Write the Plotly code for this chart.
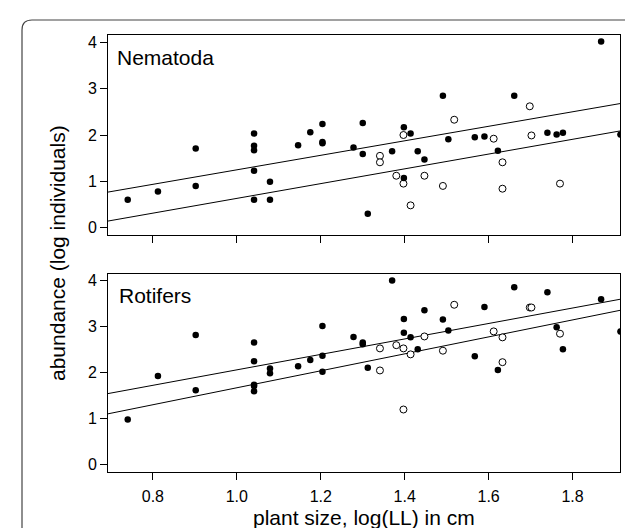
import plotly.graph_objects as go

# ---- data ----
x_filled = [0.740, 0.812, 0.902, 0.902, 1.041, 1.041, 1.041, 1.041, 1.041, 1.079, 1.079,
            1.146, 1.175, 1.204, 1.204, 1.204, 1.278, 1.300, 1.300, 1.312, 1.370, 1.398,
            1.398, 1.414, 1.431, 1.447, 1.491, 1.504, 1.567, 1.590, 1.622, 1.661, 1.740,
            1.762, 1.777, 1.868, 1.914]
nema_filled = [0.60, 0.78, 1.71, 0.90, 2.03, 1.77, 1.67, 1.23, 0.60, 0.99, 0.60,
               1.78, 2.06, 2.24, 1.85, 1.82, 1.73, 2.26, 1.59, 0.30, 1.65, 2.17,
               1.07, 2.03, 1.65, 1.47, 2.85, 1.91, 1.95, 1.97, 1.66, 2.85, 2.05,
               2.01, 2.05, 4.02, 2.01]
roti_filled = [0.985, 1.93, 2.82, 1.62, 2.66, 2.25, 1.74, 1.71, 1.60, 2.09, 1.99,
               2.14, 2.28, 3.02, 2.37, 2.02, 2.78, 2.66, 2.62, 2.11, 4.01, 3.17,
               2.87, 2.77, 2.51, 3.36, 3.16, 2.92, 2.36, 3.43, 2.06, 3.86, 3.75,
               2.99, 2.51, 3.60, 2.90]

x_open = [1.341, 1.341, 1.380, 1.397, 1.397, 1.414, 1.447, 1.491, 1.518, 1.612,
          1.633, 1.633, 1.698, 1.702, 1.770]
nema_open = [1.55, 1.41, 1.12, 2.00, 0.95, 0.48, 1.12, 0.90, 2.33, 1.92,
             1.41, 0.84, 2.62, 1.99, 0.95]
roti_open = [2.53, 2.05, 2.60, 2.53, 1.20, 2.40, 2.79, 2.48, 3.48, 2.90,
             2.77, 2.23, 3.42, 3.42, 2.85]

# regression lines (intercept, slope)
nema_lines = [(-0.319, 1.567), (-0.964, 1.595)]
roti_lines = [(0.381, 1.682), (-0.173, 1.846)]

x_ticks = [0.8, 1.0, 1.2, 1.4, 1.6, 1.8]
y_ticks = [0, 1, 2, 3, 4]
panel_names = ["Nematoda", "Rotifers"]

# ---- figure ----
W, H = 633, 528
ML, MR, MT, MB = 100, 21, 27, 64
X_RANGE = [0.693, 1.913]
Y_RANGE = [-0.16, 4.16]
FONT = "Liberation Sans, Arial, Helvetica, sans-serif"

fig = go.Figure()

panels = [
    (nema_filled, nema_open, nema_lines, "x2", "y2"),
    (roti_filled, roti_open, roti_lines, "x", "y"),
]
for yf, yo, lines, xa, ya in panels:
    for a, b in lines:
        fig.add_trace(go.Scatter(x=X_RANGE, y=[a + b * X_RANGE[0], a + b * X_RANGE[1]],
                                 mode="lines", line=dict(color="black", width=1),
                                 xaxis=xa, yaxis=ya, showlegend=False, hoverinfo="skip"))
    fig.add_trace(go.Scatter(x=x_open, y=yo, mode="markers",
                             marker=dict(size=7, color="white", line=dict(color="black", width=1)),
                             xaxis=xa, yaxis=ya, showlegend=False))
    fig.add_trace(go.Scatter(x=x_filled, y=yf, mode="markers",
                             marker=dict(size=6.5, color="black", line=dict(width=0)),
                             xaxis=xa, yaxis=ya, showlegend=False))

plot_h = H - MT - MB
def py2paper(py):
    return 1 - (py - MT) / plot_h
def px2paper(px):
    return (px - ML) / (W - ML - MR)

top_dom = [py2paper(227), 1.0]
bot_dom = [0.0, py2paper(265.5)]

axis_common = dict(range=X_RANGE, tickvals=x_ticks, ticks="outside", ticklen=7, tickwidth=1,
                   tickcolor="black", showline=True, linecolor="black", linewidth=1, mirror=True,
                   showgrid=False, zeroline=False, tickfont=dict(family=FONT, size=16, color="black"))
yaxis_common = dict(range=Y_RANGE, tickvals=y_ticks, ticks="outside", ticklen=7, tickwidth=1,
                    tickcolor="black", showline=True, linecolor="black", linewidth=1, mirror=True,
                    showgrid=False, zeroline=False, tickfont=dict(family=FONT, size=16, color="black"))

fig.update_layout(
    width=W, height=H, margin=dict(l=ML, r=MR, t=MT, b=MB),
    paper_bgcolor="white", plot_bgcolor="white",
    xaxis=dict(axis_common, anchor="y", tickformat=".1f", ticklabelstandoff=3),
    yaxis=dict(yaxis_common, domain=bot_dom, anchor="x"),
    xaxis2=dict(axis_common, anchor="y2", showticklabels=False, matches="x"),
    yaxis2=dict(yaxis_common, domain=top_dom, anchor="x2"),
    font=dict(family=FONT, color="black"),
)

# panel labels
fig.add_annotation(text=panel_names[0], xref="paper", yref="paper", x=px2paper(107), y=py2paper(50),
                   xanchor="left", yanchor="middle", showarrow=False, font=dict(size=21, family=FONT))
fig.add_annotation(text=panel_names[1], xref="paper", yref="paper", x=px2paper(109), y=py2paper(287),
                   xanchor="left", yanchor="middle", showarrow=False, font=dict(size=21, family=FONT))
# axis titles
fig.add_annotation(text="abundance (log individuals)", xref="paper", yref="paper",
                   x=px2paper(50), y=py2paper(245), textangle=-90, xanchor="center", yanchor="middle",
                   showarrow=False, font=dict(size=21, family=FONT))
fig.add_annotation(text="plant size, log(LL) in cm", xref="paper", yref="paper",
                   x=px2paper(356), y=py2paper(509), xanchor="center", yanchor="middle",
                   showarrow=False, font=dict(size=21, family=FONT))

# outer rounded frame
x0, x1 = px2paper(14), px2paper(632)
y0, y1 = py2paper(545), py2paper(12)
rx = 10 / (W - ML - MR)
ry = 10 / plot_h
path = (f"M {x0},{y0} L {x0},{y1 - ry} Q {x0},{y1} {x0 + rx},{y1} "
        f"L {x1 - rx},{y1} Q {x1},{y1} {x1},{y1 - ry} L {x1},{y0}")
fig.add_shape(type="path", path=path, xref="paper", yref="paper",
              line=dict(color="#444444", width=1.2), layer="below")

fig.write_html("out.html")
